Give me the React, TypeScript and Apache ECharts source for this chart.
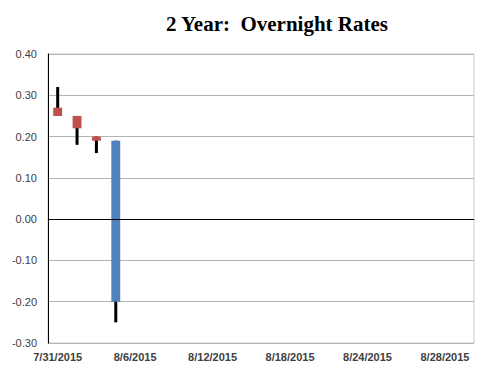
import React, { useEffect, useRef } from "react";
import * as echarts from "echarts";

const dates = [
  "7/31/2015", "8/3/2015", "8/4/2015", "8/5/2015", "8/6/2015", "8/7/2015",
  "8/10/2015", "8/11/2015", "8/12/2015", "8/13/2015", "8/14/2015",
  "8/17/2015", "8/18/2015", "8/19/2015", "8/20/2015", "8/21/2015",
  "8/24/2015", "8/25/2015", "8/26/2015", "8/27/2015", "8/28/2015", "8/31/2015",
];
const openVals = [0.27, 0.25, 0.20, -0.20];
const closeVals = [0.25, 0.22, 0.19, 0.19];
const lowVals = [0.25, 0.18, 0.16, -0.25];
const highVals = [0.32, 0.25, 0.20, 0.19];
const yTicks = { min: -0.3, max: 0.4, interval: 0.1 };
const upColor = "#4F81BD";
const downColor = "#C0504D";

export default function App() {
  const ref = useRef<HTMLDivElement>(null);
  useEffect(() => {
    if (!ref.current) return;
    const chart = echarts.init(ref.current, null, { renderer: "svg" });
    const data = openVals.map((o, i) => [i, o, closeVals[i], lowVals[i], highVals[i]]);
    chart.setOption({
      animation: false,
      backgroundColor: "#fff",
      title: {
        text: "2 Year:  Overnight Rates",
        left: 272,
        top: 8,
        textAlign: "center",
        textStyle: {
          fontFamily: "Liberation Serif",
          fontWeight: "bold",
          fontSize: 21,
          color: "#000",
        },
      },
      grid: {
        left: 48,
        right: 26,
        top: 54,
        bottom: 28,
        show: true,
        borderColor: "#c8c8c8",
        borderWidth: 1,
      },
      xAxis: {
        type: "category",
        data: dates,
        boundaryGap: true,
        axisLine: { show: true, lineStyle: { color: "#8c8c8c" } },
        axisTick: { show: false },
        axisLabel: {
          interval: 3,
          fontFamily: "Liberation Sans",
          fontSize: 11,
          fontWeight: "bold",
          color: "#404040",
          margin: 8,
        },
        splitLine: { show: false },
      },
      yAxis: {
        type: "value",
        min: yTicks.min,
        max: yTicks.max,
        interval: yTicks.interval,
        axisLine: { show: true, lineStyle: { color: "#000" } },
        axisTick: { show: false },
        axisLabel: {
          formatter: (v: number) => v.toFixed(2),
          fontFamily: "Liberation Sans",
          fontSize: 11,
          color: "#404040",
          margin: 11,
        },
        splitLine: { show: true, lineStyle: { color: "#b4b4b4" } },
      },
      series: [
        {
          type: "custom",
          data,
          encode: { x: 0, y: [1, 2, 3, 4] },
          renderItem: (params: any, api: any) => {
            const idx = api.value(0);
            const o = api.value(1);
            const c = api.value(2);
            const lo = api.value(3);
            const hi = api.value(4);
            const pO = api.coord([idx, o]);
            const pC = api.coord([idx, c]);
            const pL = api.coord([idx, lo]);
            const pH = api.coord([idx, hi]);
            const bw = api.size([1, 0])[0] * 0.46;
            const x = pO[0];
            const color = c >= o ? upColor : downColor;
            return {
              type: "group",
              children: [
                {
                  type: "rect",
                  shape: { x: x - 1.5, y: pH[1], width: 3, height: pL[1] - pH[1] },
                  style: { fill: "#000" },
                },
                {
                  type: "rect",
                  shape: {
                    x: x - bw / 2,
                    y: Math.min(pO[1], pC[1]),
                    width: bw,
                    height: Math.max(2, Math.abs(pO[1] - pC[1])),
                  },
                  style: { fill: color },
                },
              ],
            };
          },
          markLine: {
            silent: true,
            symbol: "none",
            label: { show: false },
            lineStyle: { color: "#000", width: 1, type: "solid" },
            data: [{ yAxis: 0 }],
          },
        },
      ],
    });
    return () => chart.dispose();
  }, []);
  return <div ref={ref} style={{ width: 500, height: 371, position: "absolute", left: 0, top: 0 }} />;
}
